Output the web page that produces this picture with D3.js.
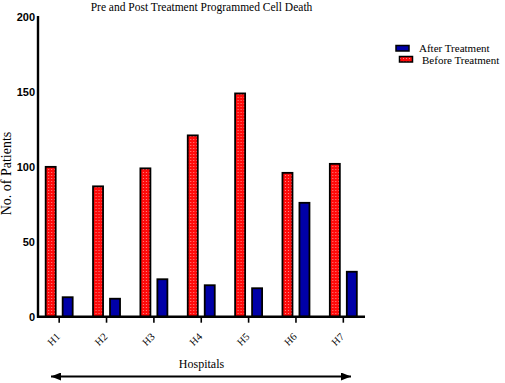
<!DOCTYPE html>
<html>
<head>
<meta charset="utf-8">
<script src="https://cdn.jsdelivr.net/npm/d3@7"></script>
<style>
  body { margin: 0; background: #fff; }
  svg { display: block; }
</style>
</head>
<body>
<div id="chart"></div>
<script>
// data
var hospitals = ["H1", "H2", "H3", "H4", "H5", "H6", "H7"];
var beforeTreatment = [100, 87, 99, 121, 149, 96, 102];
var afterTreatment = [13, 12, 25, 21, 19, 76, 30];
var yTicks = [0, 50, 100, 150, 200];
var seriesNames = ["Before Treatment", "After Treatment"];
var legendOrder = ["After Treatment", "Before Treatment"];

var width = 505, height = 383;
var serif = "'Liberation Serif', 'Times New Roman', serif";

var svg = d3.select("#chart")
  .append("svg")
  .attr("width", width)
  .attr("height", height);

// dotted red fill
var defs = svg.append("defs");
var pat = defs.append("pattern")
  .attr("id", "redDots")
  .attr("patternUnits", "userSpaceOnUse")
  .attr("width", 3)
  .attr("height", 3);
pat.append("rect").attr("width", 3).attr("height", 3).attr("fill", "#ff0a0a");
pat.append("circle").attr("cx", 1.5).attr("cy", 1.5).attr("r", 0.55).attr("fill", "#ff9a9a");

var color = {"Before Treatment": "url(#redDots)", "After Treatment": "#0000a8"};

var x0 = 38, x1 = 365, yBottom = 316.7, yTop = 17;

var x = d3.scaleBand()
  .domain(hospitals)
  .range([35.5, 367]);

var xs = d3.scaleBand()
  .domain(seriesNames)
  .range([-13.5, 13.5])
  .paddingInner(0.41);

var y = d3.scaleLinear()
  .domain([0, 200])
  .range([yBottom, yTop]);

// title
svg.append("text")
  .attr("x", (x0 + x1) / 2)
  .attr("y", 11)
  .attr("text-anchor", "middle")
  .style("font-family", serif)
  .style("font-size", "11.5px")
  .text("Pre and Post Treatment Programmed Cell Death");

// bars
var rows = hospitals.map((h, i) => ({h: h, vals: [
  {s: "Before Treatment", v: beforeTreatment[i]},
  {s: "After Treatment", v: afterTreatment[i]}
]}));

var groups = svg.selectAll("g.hosp")
  .data(rows)
  .enter()
  .append("g")
  .attr("class", "hosp")
  .attr("transform", d => "translate(" + (x(d.h) + x.bandwidth() / 2) + ",0)");

groups.selectAll("rect")
  .data(d => d.vals)
  .enter()
  .append("rect")
  .attr("x", d => xs(d.s))
  .attr("width", xs.bandwidth())
  .attr("y", d => y(d.v))
  .attr("height", d => y(0) - y(d.v))
  .attr("fill", d => color[d.s])
  .attr("stroke", "#000")
  .attr("stroke-width", 1.8);

// y axis
var yAxis = svg.append("g")
  .attr("transform", "translate(" + x0 + ",0)")
  .call(d3.axisLeft(y).tickValues(yTicks).tickSize(0).tickPadding(3));
yAxis.select(".domain").remove();
yAxis.selectAll("text")
  .style("font-family", "'Liberation Sans', Arial, sans-serif")
  .style("font-weight", "bold")
  .style("font-size", "11px")
  .attr("fill", "#000");

svg.append("line")
  .attr("x1", x0).attr("x2", x0)
  .attr("y1", y(200) - 1).attr("y2", y(0) + 1)
  .attr("stroke", "#000")
  .attr("stroke-width", 2.4);

// x axis
var xAxis = svg.append("g")
  .attr("transform", "translate(0," + yBottom + ")")
  .call(d3.axisBottom(x).tickSize(6).tickSizeOuter(0));
xAxis.select(".domain").remove();
xAxis.selectAll(".tick line").attr("stroke", "#000").attr("stroke-width", 1.6);
xAxis.selectAll("text")
  .style("font-family", serif)
  .style("font-size", "10.5px")
  .attr("fill", "#000")
  .attr("text-anchor", "end")
  .attr("y", 0)
  .attr("dy", "0.35em")
  .attr("transform", "translate(-1,18) rotate(-45)");

svg.append("line")
  .attr("x1", x0 - 1).attr("x2", x1)
  .attr("y1", yBottom).attr("y2", yBottom)
  .attr("stroke", "#000")
  .attr("stroke-width", 2.4);

// axis titles
svg.append("text")
  .attr("transform", "translate(11," + 173.5 + ") rotate(-90)")
  .attr("text-anchor", "middle")
  .style("font-family", serif)
  .style("font-size", "14px")
  .text("No. of Patients");

svg.append("text")
  .attr("x", (x0 + x1) / 2)
  .attr("y", 368)
  .attr("text-anchor", "middle")
  .style("font-family", serif)
  .style("font-size", "12px")
  .text("Hospitals");

// double arrow under the x axis
defs.append("marker")
  .attr("id", "arrowEnd")
  .attr("viewBox", "0 0 10 8")
  .attr("refX", 10).attr("refY", 4)
  .attr("markerWidth", 10).attr("markerHeight", 8)
  .attr("markerUnits", "userSpaceOnUse")
  .attr("orient", "auto-start-reverse")
  .append("path")
  .attr("d", "M0,0 L10,4 L0,8 Z")
  .attr("fill", "#000");

svg.append("line")
  .attr("x1", 51).attr("x2", 351)
  .attr("y1", 376.5).attr("y2", 376.5)
  .attr("stroke", "#000")
  .attr("stroke-width", 2)
  .attr("marker-start", "url(#arrowEnd)")
  .attr("marker-end", "url(#arrowEnd)");

// legend
var legend = svg.append("g");
var legendPos = {
  "After Treatment": {sx: 396, sy: 45.5, tx: 419, ty: 52},
  "Before Treatment": {sx: 399.5, sy: 56.5, tx: 422, ty: 63.5}
};
legendOrder.forEach(name => {
  var p = legendPos[name];
  legend.append("rect")
    .attr("x", p.sx).attr("y", p.sy)
    .attr("width", 13).attr("height", 5.5)
    .attr("fill", color[name])
    .attr("stroke", "#000")
    .attr("stroke-width", 1.5);
  legend.append("text")
    .attr("x", p.tx).attr("y", p.ty)
    .style("font-family", serif)
    .style("font-size", "11px")
    .text(name);
});
</script>
</body>
</html>
